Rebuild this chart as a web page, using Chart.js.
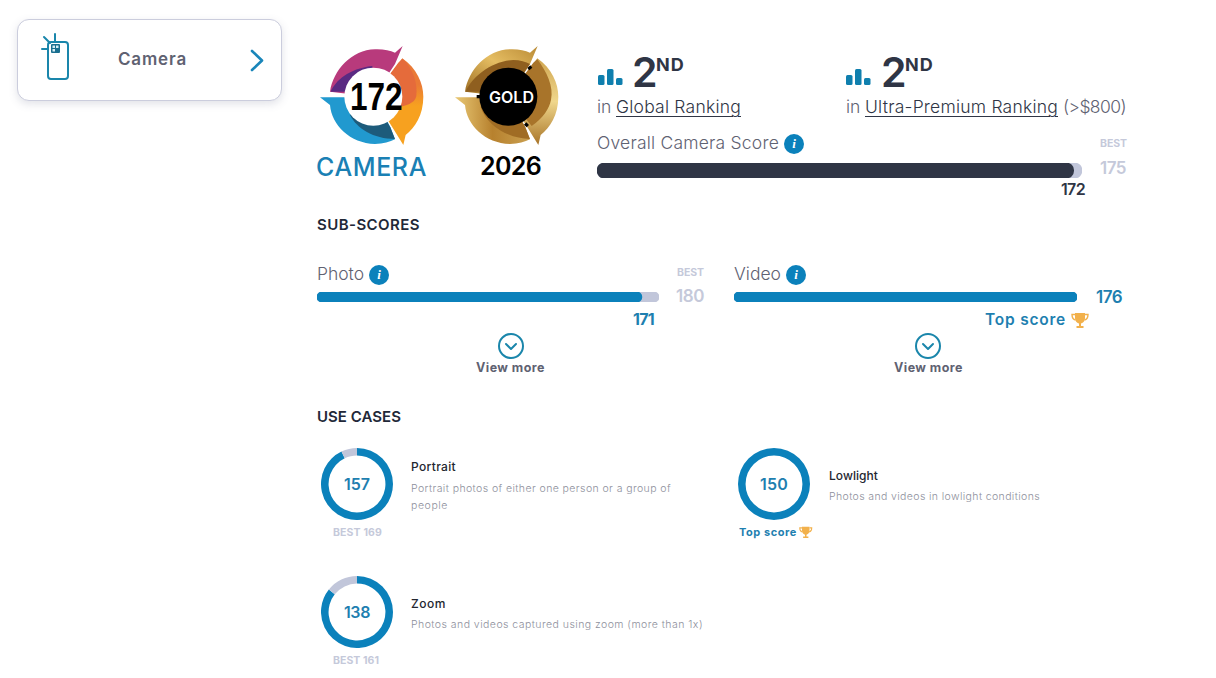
<!DOCTYPE html>
<html lang="en">
<head>
<meta charset="UTF-8">
<title>Camera score</title>
<style>
    html, body { margin: 0; padding: 0; background: #fff; }
    #page { position: relative; width: 1216px; height: 678px; overflow: hidden; font-family: Inter, "Open Sans", sans-serif; color: #5f6272; }
    canvas, svg.art { position: absolute; }
    .t { position: absolute; white-space: nowrap; line-height: 20px; height: 20px; }
    .card { position: absolute; left: 17px; top: 19px; width: 263px; height: 80px; border: 1px solid #cbcddd; border-radius: 12px; box-shadow: 0 3px 9px rgba(90, 95, 130, .18); background: #fff; }
    .info { position: absolute; width: 20px; height: 20px; border-radius: 50%; background: #0b81bb; color: #fff; font: italic bold 13px/20px "Liberation Serif", serif; text-align: center; }
    .label { font-size: 17.5px; font-weight: 300; color: #5f6272; }
    .best { font-size: 10.5px; font-weight: 700; color: #c5c9da; }
    .bignum { font-size: 17px; font-weight: 600; color: #c5c9da; }
    .blue { color: #1e7fb0; font-weight: 700; }
    .head { font-size: 15px; font-weight: 600; color: #222838; }
    .more { font-size: 12.5px; font-weight: 700; color: #5f6272; }
    .name { font-size: 12px; font-weight: 500; color: #23262f; }
    .desc { font-size: 10.5px; font-weight: 300; color: #8e909c; }
    .rank { font-size: 41px; font-weight: 600; color: #2f3545; }
    .nd { font-size: 18px; font-weight: 700; color: #2f3545; }
    .ul { color: #2f3545; text-decoration: underline; text-underline-offset: 3px; text-decoration-thickness: 1px; }
</style>
</head>
<body>
<div id="page">
    <div class="card"></div>
    <span class="t" data-w="69" style="left:118px;top:49px;font-size:17px;font-weight:600;">Camera</span>

    <svg class="art" width="1216" height="678" style="left:0;top:0">
        <defs>
            <linearGradient id="gold1" x1="0" y1="1" x2="1" y2="0"><stop offset="0" stop-color="#9a6a20"/><stop offset=".55" stop-color="#e5bd62"/><stop offset="1" stop-color="#b98a35"/></linearGradient>
            <linearGradient id="gold2" x1="0" y1="0" x2="0" y2="1"><stop offset="0" stop-color="#d0a650"/><stop offset=".5" stop-color="#f0d78c"/><stop offset="1" stop-color="#a87428"/></linearGradient>
            <linearGradient id="gold3" x1="0" y1="0" x2="1" y2="0"><stop offset="0" stop-color="#e9c874"/><stop offset=".5" stop-color="#b7812e"/><stop offset="1" stop-color="#caa050"/></linearGradient>
            <linearGradient id="warm" x1="0" y1="0" x2="0" y2="1"><stop offset=".3" stop-color="#ea7a36"/><stop offset=".55" stop-color="#f7a11f"/></linearGradient>
            <path id="segA" d="M45,155 C55,90 110,30 180,28 C205,27 225,32 240,38 L263,18 L240,72 L175,170 Z"/>
            <path id="segAin" d="M47,155 C62,122 100,86 172,78 L175,170 L92,155 Z"/>
            <path id="segAgold" d="M47,155 C65,112 125,62 190,60 C210,60 228,65 240,72 L175,170 L92,155 Z"/>
            <path id="segB" d="M262,55 C305,85 325,130 325,170 C325,225 300,262 272,285 L265,315 L232,262 L175,170 Z"/>
            <path id="segBin" d="M250,68 L262,56 C295,85 308,130 304,168 C302,183 285,195 255,200 L175,170 Z"/>
            <path id="segBgold" d="M250,68 L262,58 C290,95 312,140 303,180 C298,205 280,235 245,258 L175,170 Z"/>
            <path id="segC" d="M15,172 L92,172 L175,170 L226,262 L240,298 C225,306 205,312 180,312 C105,310 50,255 45,195 Z"/>
            <path id="segCin" d="M105,225 C125,265 175,297 240,297 L226,262 L175,170 Z"/>
            <path id="segCgold" d="M92,200 C110,255 170,295 240,297 L226,262 L175,170 Z"/>
            <g id="trophy">
                <path d="M4,1 H14 V6 C14,9.5 11.5,11 10,11.5 V14 H12.5 V16 H5.5 V14 H8 V11.5 C6.5,11 4,9.5 4,6 Z"/>
                <path d="M4,2.5 H1 C1,6 2.5,7.5 4.5,8 M14,2.5 H17 C17,6 15.5,7.5 13.5,8" fill="none" stroke="currentColor" stroke-width="1.4"/>
            </g>
        </defs>

        <!-- sidebar icons -->
        <g fill="none" stroke="#1a86ab" stroke-width="2" stroke-linecap="round">
            <rect x="48" y="42" width="20" height="37" rx="3"/>
            <path d="M55,34 V41 M42,49 H48 M44,37 L50,43"/>
        </g>
        <rect x="51" y="44" width="9" height="9" rx="1" fill="#1a6f8f"/>
        <path d="M52.5,45.5 h2.5 v2.5 h-2.5 z M56,45.5 h2.5 v2.5 h-2.5 z M52.5,49 h2.5 v2.5 h-2.5 z" fill="#d8eef5"/>
        <path d="M252,51 L262,60.5 L252,70" fill="none" stroke="#1a86ba" stroke-width="2.6" stroke-linecap="round" stroke-linejoin="round"/>

        <!-- score badge -->
        <g transform="translate(315 40) scale(.3333)">
            <use href="#segA" fill="#b83a7c"/><use href="#segAin" fill="#5a2a82"/>
            <use href="#segB" fill="url(#warm)"/><use href="#segBin" fill="#e56b3b"/>
            <use href="#segC" fill="#2199cf"/><use href="#segCin" fill="#1d5b7b"/>
            <circle cx="175" cy="170" r="87" fill="#fff"/>
        </g>
        <!-- gold badge -->
        <g transform="translate(450 40) scale(.3333)">
            <use href="#segA" fill="url(#gold1)"/><use href="#segAgold" fill="#8f5f1f"/>
            <use href="#segB" fill="url(#gold2)"/><use href="#segBgold" fill="#a8742a"/>
            <use href="#segC" fill="url(#gold3)"/><use href="#segCgold" fill="#a06c24"/>
            <circle cx="175" cy="170" r="87" fill="#000"/>
            <path d="M80,165 h16 v10 h-16 z M232,84 l9,-8 6,7 -9,8 z M222,254 l7,-7 8,8 -7,7 z" fill="#000"/>
        </g>

        <!-- rank icons -->
        <g fill="#0f7fae">
            <rect x="598" y="75" width="6.5" height="10" rx="1.5"/><rect x="607" y="69" width="6.5" height="16" rx="1.5"/><rect x="616" y="78" width="6.5" height="7" rx="1.5"/>
            <rect x="846" y="75" width="6.5" height="10" rx="1.5"/><rect x="855" y="69" width="6.5" height="16" rx="1.5"/><rect x="864" y="78" width="6.5" height="7" rx="1.5"/>
        </g>

        <!-- view more -->
        <g fill="none" stroke="#1a86ab" stroke-width="2">
            <circle cx="511" cy="346" r="12"/><path d="M506,344 L511,349 L516,344" stroke-linecap="round" stroke-linejoin="round"/>
            <circle cx="928" cy="346" r="12"/><path d="M923,344 L928,349 L933,344" stroke-linecap="round" stroke-linejoin="round"/>
        </g>

        <!-- trophies -->
        <g fill="#f2b14c" color="#f2b14c">
            <use href="#trophy" transform="translate(1071 312)"/>
            <use href="#trophy" transform="translate(799 526) scale(.75)"/>
        </g>
    </svg>

    <span class="t" style="left:350px;top:87px;font-size:38px;font-weight:700;color:#000;font-family:'Liberation Sans';transform:scaleX(.83);transform-origin:0 50%;">172</span>
    <span class="t" data-w="45" style="left:489px;top:87px;font-size:16px;font-weight:600;color:#fff;">GOLD</span>
    <span class="t" data-w="111" style="left:316px;top:157px;font-size:25px;font-weight:500;color:#1a80b4;">CAMERA</span>
    <span class="t" data-w="61" style="left:480px;top:156px;font-size:25px;font-weight:600;color:#000;">2026</span>

    <span class="t rank" data-w="22" style="left:632px;top:62px;">2</span>
    <span class="t nd" data-w="29" style="left:656px;top:55px;">ND</span>
    <span class="t label" style="left:597px;top:97px;">in</span>
    <span class="t label ul" data-w="125" style="left:616px;top:97px;">Global Ranking</span>
    <span class="t rank" data-w="22" style="left:881px;top:62px;">2</span>
    <span class="t nd" data-w="29" style="left:905px;top:55px;">ND</span>
    <span class="t label" style="left:846px;top:97px;">in</span>
    <span class="t label ul" data-w="193" style="left:865px;top:97px;">Ultra-Premium Ranking</span>
    <span class="t label" data-w="63" style="left:1063px;top:97px;">(&gt;$800)</span>

    <span class="t label" data-w="182" style="left:597px;top:133px;">Overall Camera Score</span>
    <span class="info" style="left:784px;top:134px;">i</span>
    <span class="t best" data-w="27" style="left:1100px;top:134px;">BEST</span>
    <span class="t bignum" data-w="26" style="left:1100px;top:158px;">175</span>
    <span class="t" data-w="24" style="left:1061px;top:179px;font-size:16px;font-weight:600;color:#2f3545;">172</span>

    <span class="t head" data-w="103" style="left:317px;top:215px;">SUB-SCORES</span>
    <span class="t label" data-w="47" style="left:317px;top:264px;">Photo</span>
    <span class="info" style="left:369px;top:265px;">i</span>
    <span class="t best" data-w="27" style="left:677px;top:263px;">BEST</span>
    <span class="t bignum" data-w="28" style="left:676px;top:286px;">180</span>
    <span class="t blue" data-w="21" style="left:633px;top:309px;font-size:16px;">171</span>

    <span class="t label" data-w="47" style="left:734px;top:264px;">Video</span>
    <span class="info" style="left:786px;top:265px;">i</span>
    <span class="t blue" data-w="26" style="left:1096px;top:287px;font-size:17px;font-weight:600;">176</span>
    <span class="t blue" data-w="81" style="left:985px;top:310px;font-size:15.5px;font-weight:600;">Top score</span>

    <span class="t more" data-w="69" style="left:476px;top:358px;">View more</span>
    <span class="t more" data-w="69" style="left:894px;top:358px;">View more</span>

    <span class="t head" data-w="84" style="left:317px;top:407px;">USE CASES</span>

    <span class="t blue" data-w="26" style="left:344px;top:474px;font-size:16px;font-weight:600;">157</span>
    <span class="t best" data-w="49" style="left:333px;top:523px;">BEST 169</span>
    <span class="t name" data-w="45" style="left:411px;top:457px;">Portrait</span>
    <span class="t desc" data-w="260" style="left:411px;top:479px;">Portrait photos of either one person or a group of</span>
    <span class="t desc" data-w="37" style="left:411px;top:496px;">people</span>

    <span class="t blue" data-w="28" style="left:760px;top:474px;font-size:16px;font-weight:600;">150</span>
    <span class="t blue" data-w="58" style="left:739px;top:522px;font-size:11px;">Top score</span>
    <span class="t name" data-w="49" style="left:829px;top:466px;">Lowlight</span>
    <span class="t desc" data-w="211" style="left:829px;top:487px;">Photos and videos in lowlight conditions</span>

    <span class="t blue" data-w="26" style="left:344px;top:602px;font-size:16px;font-weight:600;">138</span>
    <span class="t best" data-w="46" style="left:333px;top:651px;">BEST 161</span>
    <span class="t name" data-w="35" style="left:411px;top:594px;">Zoom</span>
    <span class="t desc" data-w="292" style="left:411px;top:615px;">Photos and videos captured using zoom (more than 1x)</span>

    <canvas id="overallBar" width="485" height="15" style="left:597px;top:163px"></canvas>
    <canvas id="photoBar" width="342" height="10" style="left:317px;top:292px"></canvas>
    <canvas id="videoBar" width="343" height="10" style="left:734px;top:292px"></canvas>
    <canvas id="portraitRing" width="72" height="72" style="left:321px;top:448px"></canvas>
    <canvas id="lowlightRing" width="72" height="72" style="left:738px;top:448px"></canvas>
    <canvas id="zoomRing" width="72" height="72" style="left:321px;top:576px"></canvas>
</div>

<script src="https://cdn.jsdelivr.net/npm/chart.js"></script>
<script>
// score, best
const overall = [172, 175];
const photo = [171, 180];
const video = [176, 176];
const portrait = [157, 169];
const lowlight = [150, 150];
const zoom = [138, 161];

const BLUE = '#0b81bb', TRACK = '#c1c6da', DARK = '#2f3545';

// stretch letter spacing so the fallback font fills the same width as the original text
document.querySelectorAll('.t[data-w]').forEach(el => {
    const n = el.textContent.length;
    const w = el.getBoundingClientRect().width;
    el.style.letterSpacing = ((+el.dataset.w - w) / n) + 'px';
});

function scoreBar(id, vals, color) {
    const canvas = document.getElementById(id);
    new Chart(canvas, {
        type: 'bar',
        data: {
            labels: [id],
            datasets: [
                { data: [vals[0]], backgroundColor: color },
                { data: [vals[1]], backgroundColor: TRACK }
            ]
        },
        options: {
            indexAxis: 'y',
            responsive: false,
            animation: false,
            events: [],
            layout: { padding: 0 },
            datasets: { bar: { grouped: false, barPercentage: 1, categoryPercentage: 1, borderRadius: canvas.height / 2, borderSkipped: false } },
            scales: {
                x: { display: false, min: 0, max: vals[1] },
                y: { display: false }
            },
            plugins: { legend: { display: false }, tooltip: { enabled: false } }
        }
    });
}

function scoreRing(id, vals) {
    new Chart(document.getElementById(id), {
        type: 'doughnut',
        data: {
            labels: ['score', 'to best'],
            datasets: [{ data: [vals[0], vals[1] - vals[0]], backgroundColor: [BLUE, TRACK], borderWidth: 0 }]
        },
        options: {
            responsive: false,
            animation: false,
            events: [],
            cutout: '79%',
            plugins: { legend: { display: false }, tooltip: { enabled: false } }
        }
    });
}

scoreBar('overallBar', overall, DARK);
scoreBar('photoBar', photo, BLUE);
scoreBar('videoBar', video, BLUE);
scoreRing('portraitRing', portrait);
scoreRing('lowlightRing', lowlight);
scoreRing('zoomRing', zoom);
</script>
</body>
</html>
